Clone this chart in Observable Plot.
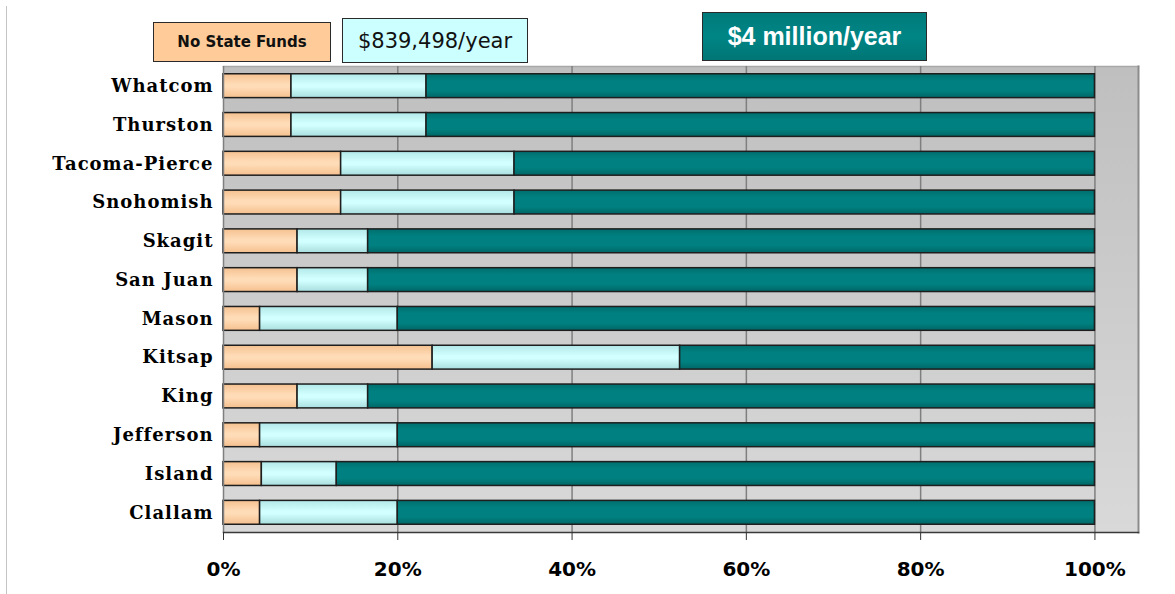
<!DOCTYPE html>
<html>
<head>
<meta charset="utf-8">
<script src="https://cdn.jsdelivr.net/npm/d3@7"></script>
<script src="https://cdn.jsdelivr.net/npm/@observablehq/plot@0.6"></script>
<style>
  html, body { margin: 0; padding: 0; background: #fff; }
  #wrap { position: relative; width: 1175px; height: 594px; overflow: hidden; }
  #legend { position: relative; width: 1175px; height: 62px; }
  .lg { position: absolute; box-sizing: border-box; border: 1.5px solid #2a2a2a; display: flex; align-items: center; justify-content: center; white-space: nowrap; }
  #lg1 { left: 153px; top: 22px; width: 178px; height: 40px; background: #ffcc99; font: bold 15px "DejaVu Sans", sans-serif; color: #111; }
  #lg2 { left: 342px; top: 18px; width: 186px; height: 45px; background: #ccffff; font: 21px "DejaVu Sans", sans-serif; color: #111; }
  #lg3 { left: 702px; top: 12px; width: 225px; height: 49px; background: linear-gradient(#007a7a, #008585 50%, #007575); font: bold 25px "Liberation Sans", Arial, sans-serif; color: #fff; }
  #edge { position: absolute; left: 6px; top: 6px; width: 1px; height: 600px; background: #c4c4c4; }
  svg { display: block; }
  g[aria-label="x-axis tick label"] text { font: bold 20px "DejaVu Sans", sans-serif; fill: #000; }
  g[aria-label="y-axis tick label"] text { font: bold 18px "DejaVu Serif", serif; fill: #000; letter-spacing: 1px; }
</style>
</head>
<body>
<div id="wrap">
  <div id="edge"></div>
  <div id="legend">
    <div class="lg" id="lg1"></div>
    <div class="lg" id="lg2"></div>
    <div class="lg" id="lg3"></div>
  </div>
  <div id="chart"></div>
</div>
<script>
// Categories (top to bottom)
const counties = ["Whatcom", "Thurston", "Tacoma-Pierce", "Snohomish", "Skagit", "San Juan", "Mason", "Kitsap", "King", "Jefferson", "Island", "Clallam"];
// Series names
const seriesNames = ["No State Funds", "$839,498/year", "$4 million/year"];
// Series values (percent of total)
const noStateFunds = [7.8, 7.8, 13.5, 13.5, 8.5, 8.5, 4.2, 24.0, 8.5, 4.2, 4.4, 4.2];
const midFunding   = [15.5, 15.5, 19.9, 19.9, 8.1, 8.1, 15.8, 28.4, 8.1, 15.8, 8.6, 15.8];
const fullFunding  = [76.7, 76.7, 66.6, 66.6, 83.4, 83.4, 80.0, 47.6, 83.4, 80.0, 87.0, 80.0];
// Tick values
const xTicks = [0, 20, 40, 60, 80, 100];

document.getElementById("lg1").textContent = seriesNames[0];
document.getElementById("lg2").textContent = seriesNames[1];
document.getElementById("lg3").textContent = seriesNames[2];

const seriesValues = [noStateFunds, midFunding, fullFunding];
const rows = counties.flatMap((c, i) => seriesNames.map((s, j) => ({county: c, series: s, value: seriesValues[j][i]})));

const chart = Plot.plot({
  width: 1175,
  height: 532,
  marginLeft: 223,
  marginRight: 37,
  marginTop: 4,
  marginBottom: 62,
  x: {domain: [0, 105], label: null},
  y: {domain: counties, paddingInner: 0.385, paddingOuter: 0.2, round: false, label: null},
  color: {domain: seriesNames, range: ["url(#gOrange)", "url(#gCyan)", "url(#gTeal)"]},
  marks: [
    Plot.frame({fill: "url(#gBg)", stroke: null}),
    Plot.frame({anchor: "top", stroke: "#a8a8a8", strokeWidth: 1.5}),
    Plot.frame({anchor: "right", stroke: "#8c8c8c", strokeWidth: 2}),
    Plot.ruleX(xTicks.slice(1), {stroke: "#7f7f7f", strokeWidth: 1.5}),
    Plot.barX(rows, {y: "county", x: "value", fill: "series", stroke: "#1e1e1e", strokeWidth: 1.5}),
    Plot.ruleX([0], {stroke: "#7f7f7f", strokeWidth: 1.5}),
    Plot.frame({anchor: "bottom", stroke: "#3a3a3a", strokeWidth: 1.5}),
    Plot.axisX({ticks: xTicks, tickFormat: d => d + "%", tickSize: 8, tickPadding: 21, stroke: "#333", label: null}),
    Plot.axisY({tickSize: 0, tickPadding: 10, label: null})
  ]
});

const svg = d3.select(chart);
const defs = svg.insert("defs", ":first-child");
function grad(id, stops) {
  const g = defs.append("linearGradient").attr("id", id).attr("x1", 0).attr("y1", 0).attr("x2", 0).attr("y2", 1);
  stops.forEach(([o, c]) => g.append("stop").attr("offset", o).attr("stop-color", c));
}
grad("gOrange", [[0, "#f5c190"], [0.45, "#ffdcb8"], [0.55, "#ffdcb8"], [1, "#f5c08e"]]);
grad("gCyan", [[0, "#b2e8e8"], [0.45, "#d2ffff"], [0.55, "#d2ffff"], [1, "#a9dede"]]);
grad("gTeal", [[0, "#006e6e"], [0.3, "#008080"], [0.7, "#008080"], [1, "#006666"]]);
grad("gBg", [[0, "#bfbfbf"], [1, "#d9d9d9"]]);

document.getElementById("chart").appendChild(chart);
</script>
</body>
</html>
